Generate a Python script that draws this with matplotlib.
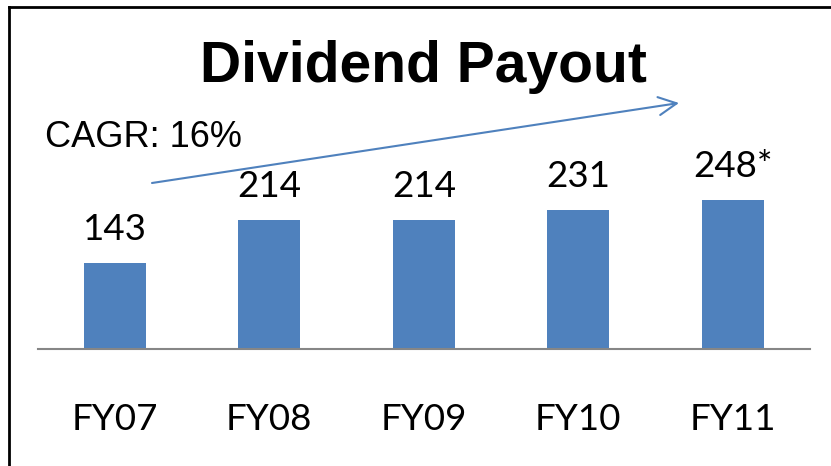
import matplotlib.pyplot as plt
from matplotlib.lines import Line2D
from matplotlib.patches import FancyArrowPatch

years = ["FY07", "FY08", "FY09", "FY10", "FY11"]
payout = [143, 214, 214, 231, 248]
labels = ["143", "214", "214", "231", "248*"]

W, H = 831, 466
fig = plt.figure(figsize=(W / 100, H / 100), dpi=100)
ax = fig.add_axes([37.5 / W, (H - 349) / H, (810 - 37.5) / W, (349 - 10) / H])

bar_col = "#4F81BD"
x = range(len(years))
ax.bar(x, payout, width=0.4, color=bar_col)
ax.set_xlim(-0.5, len(years) - 0.5)
ax.set_ylim(0, 339 / 0.602)

for i, (v, s) in enumerate(zip(payout, labels)):
    ax.annotate(s, (i, v), xytext=(0, 16.5), textcoords="offset points",
                ha="center", va="baseline", fontsize=26.5, family="Lato")

ax.set_xticks(list(x), years, fontsize=26.5, family="Lato")
for lbl in ax.get_xticklabels():
    lbl.set_va("baseline")
ax.tick_params(axis="x", length=0, pad=58)
ax.set_yticks([])
for side in ["left", "right", "top"]:
    ax.spines[side].set_visible(False)
ax.spines["bottom"].set_color("#868686")
ax.spines["bottom"].set_linewidth(1.5)

# title and CAGR note
fig.text(423 / W, 1 - 82 / H, "Dividend Payout", ha="center", va="baseline",
         fontsize=41, fontweight="bold", family="Liberation Sans")
fig.text(45 / W, 1 - 147 / H, "CAGR: 16%", ha="left", va="baseline",
         fontsize=26, family="Liberation Sans")

arr = FancyArrowPatch((152 / W, 1 - 183 / H), (679 / W, 1 - 103 / H),
                      transform=fig.transFigure,
                      arrowstyle="->,head_length=1.3,head_width=0.65",
                      mutation_scale=10, color=bar_col, lw=1.5,
                      shrinkA=0, shrinkB=0)
fig.add_artist(arr)

# outer frame (left and top edges)
fig.add_artist(Line2D([8.5 / W, 8.5 / W], [0, 1 - 6.7 / H], color="black", lw=2))
fig.add_artist(Line2D([8.5 / W, 1], [1 - 6.7 / H, 1 - 6.7 / H], color="black", lw=2))

fig.savefig("out.png", dpi=100, facecolor="white")
